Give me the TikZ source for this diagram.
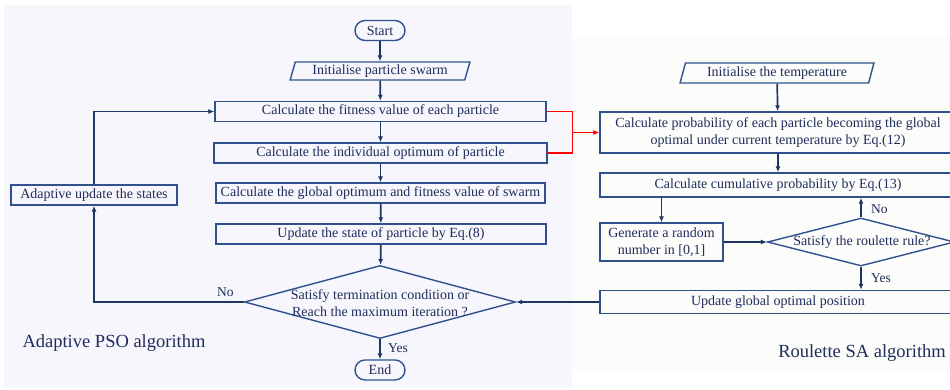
\documentclass[tikz,border=0pt]{standalone}
\usepackage{fontspec}
\setmainfont{Liberation Serif}
\usepackage{xcolor}
\usepackage{tikz}
\usetikzlibrary{arrows.meta,positioning,calc,shapes.geometric}
\definecolor{boxblue}{RGB}{47,82,143}
\definecolor{linkblue}{RGB}{30,54,100}
\definecolor{txtblue}{RGB}{31,45,92}
\definecolor{leftbg}{RGB}{247,246,252}
\definecolor{rightbg}{RGB}{252,252,250}
\tikzset{
  box/.style={draw=boxblue,line width=1.4pt,inner sep=0pt,minimum height=20pt,text=txtblue,align=center},
  terminal/.style={box,rounded corners=10pt,minimum width=50pt},
  io/.style={box,trapezium,trapezium left angle=72,trapezium right angle=108,trapezium stretches=true},
  decision/.style={box,diamond},
  flow/.style={draw=linkblue,line width=1.7pt,-{Latex[length=6pt,width=5pt]}},
  redflow/.style={draw=red,line width=1.3pt},
  lbl/.style={text=txtblue,font=\fontsize{13.5}{16}\selectfont},
  title/.style={text=txtblue,font=\fontsize{18.5}{22}\selectfont}
}
\begin{document}
\begin{tikzpicture}[x=1pt,y=1pt,font=\fontsize{14}{17}\selectfont]
\useasboundingbox (0,0) rectangle (950,-389);
\clip (0,0) rectangle (950,-389);
\fill[leftbg] (4,-5) rectangle (572,-387);
\fill[rightbg] (572,-37) rectangle (950,-372);

\node[terminal] (start) at (380,-30.5) {Start};
\node[io,minimum width=180pt,minimum height=18pt] (init) at (380,-71) {Initialise particle swarm};
\node[box,minimum width=331pt] (fit) at (380.5,-111.5) {Calculate the fitness value of each particle};
\node[box,minimum width=333pt] (indiv) at (380.5,-153) {Calculate the individual optimum of particle};
\node[box,minimum width=329pt] (glob) at (380.5,-193) {Calculate the global optimum and fitness value of swarm};
\node[box,minimum width=330pt] (upd) at (381,-234) {Update the state of particle by Eq.(8)};
\node[decision,minimum width=271pt,minimum height=73pt] (term) at (380,-302) {};
\node[text=txtblue,align=center] at (380,-303) {Satisfy termination condition or\\Reach the maximum iteration ?};
\node[terminal] (end) at (380,-370) {End};
\node[box,minimum width=166pt] (adapt) at (94,-195) {Adaptive update the states};
\node[title] at (114,-343) {Adaptive PSO algorithm};

\node[io,minimum width=194pt,minimum height=20pt] (temp) at (777,-73) {Initialise the temperature};
\node[box,minimum width=356pt,minimum height=41pt] (prob) at (778,-132.5) {Calculate probability of each particle becoming the global\\optimal under current temperature by Eq.(12)};
\node[box,minimum width=356pt,minimum height=24pt] (cum) at (778,-185) {Calculate cumulative probability by Eq.(13)};
\node[box,minimum width=123pt,minimum height=38pt] (gen) at (661.5,-242) {Generate a random\\number in [0,1]};
\node[decision,minimum width=187pt,minimum height=48pt] (roul) at (861,-242) {};
\node[text=txtblue] at (862,-242) {Satisfy the roulette rule?};
\node[box,minimum width=356pt,minimum height=23pt] (ugo) at (778,-302) {Update global optimal position};
\node[title] at (862,-353) {Roulette SA algorithm};

\draw[flow] (start) -- (init);
\draw[flow] (init) -- (fit);
\draw[flow] (fit) -- (indiv);
\draw[flow] (indiv) -- (glob);
\draw[flow] (glob) -- (upd);
\draw[flow] (upd) -- (term);
\draw[flow] (term.south) -- node[lbl,right=4pt,pos=0.45]{Yes} (end);
\draw[flow] (term.west) node[lbl,above left=1pt and 6pt]{No} -| (adapt.south);
\draw[flow] (adapt.north) |- (fit.west);

\coordinate[left=27pt of prob.west] (mrg);
\draw[redflow] (fit.east) -| (mrg) |- (indiv.east);
\draw[redflow,-{Latex[length=6pt,width=5pt]}] (mrg) -- (prob.west);

\draw[flow] (temp) -- (prob);
\draw[flow] (prob) -- (cum);
\draw[flow] (cum.south -| gen.north) -- (gen.north);
\draw[flow] (gen) -- (roul.west);
\draw[flow] (roul.north) -- node[lbl,right=6pt,pos=0.4]{No} (roul.north |- cum.south);
\draw[flow] (roul.south) -- node[lbl,right=6pt,pos=0.5]{Yes} (roul.south |- ugo.north);
\draw[flow] (ugo.west) -- (term.east);
\end{tikzpicture}
\end{document}
